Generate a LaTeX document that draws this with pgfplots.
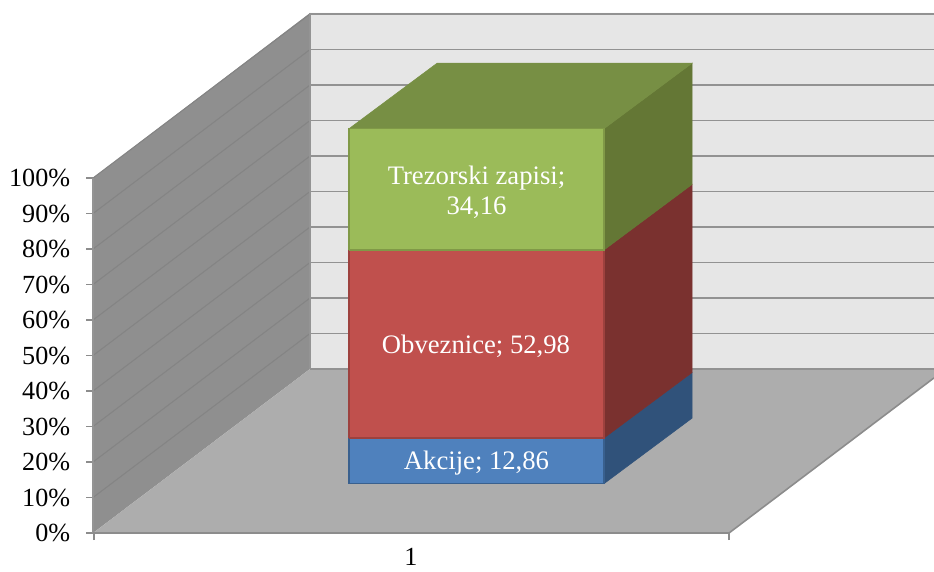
\documentclass[border=0pt]{standalone}
\usepackage{pgfplots}
\usepackage{fontspec}
\setmainfont{Liberation Serif}
\pgfplotsset{compat=1.18}
\definecolor{wallb}{HTML}{E6E6E6}
\definecolor{walls}{HTML}{8F8F8F}
\definecolor{flr}{HTML}{ADADAD}
\definecolor{gridb}{HTML}{929292}
\definecolor{grids}{HTML}{848484}
\definecolor{blueF}{HTML}{4F81BD}
\definecolor{blueS}{HTML}{30527A}
\definecolor{redF}{HTML}{C0504D}
\definecolor{redS}{HTML}{7A312F}
\definecolor{greenF}{HTML}{9BBB59}
\definecolor{greenS}{HTML}{647735}
\definecolor{greenT}{HTML}{778F44}
\begin{document}
\begin{tikzpicture}
\begin{axis}[
  at={(69.75pt,28.5pt)}, anchor=south west,
  scale only axis, width=630.75pt, height=390pt,
  xmin=93, xmax=934, ymin=0, ymax=146.5,
  clip=false,
  axis line style={draw=none},
  tick align=outside, xtick pos=bottom, ytick pos=left,
  major tick length=5.25pt,
  tick style={color=black!45, line width=1.2pt},
  ytick={0,10,...,100},
  yticklabel={\pgfmathprintnumber{\tick}\%},
  /pgf/number format/assume math mode=true,
  ticklabel style={font=\fontsize{19.6}{21}\selectfont, text=black},
  yticklabel style={xshift=-8.4pt},
  xtick={94,729}, xticklabels={,},
  extra x ticks={411}, extra x tick labels={1},
  extra x tick style={major tick length=0pt, xticklabel style={yshift=-11.2pt, inner sep=0pt}},
  unbounded coords=jump,
  every axis plot/.append style={mark=none, forget plot},
]
% walls and floor
\addplot[fill=wallb, draw=none] coordinates {(310,46.2)(934,46.2)(934,146.5)(310,146.5)(310,46.2)};
\addplot[fill=walls, draw=none] coordinates {(93,0)(310,46.2)(310,146.5)(93,100)(93,0)};
\addplot[fill=flr, draw=none] coordinates {(93,0)(729,0)(934,43.7)(934,46.2)(310,46.2)(93,0)};
% back gridlines
\addplot[gridb, line width=1.1pt] coordinates {
 (310,146.2)(934,146.2)(310,nan)
 (310,136.2)(934,136.2)(310,nan)
 (310,126.2)(934,126.2)(310,nan)
 (310,116.2)(934,116.2)(310,nan)
 (310,106.2)(934,106.2)(310,nan)
 (310,96.2)(934,96.2)(310,nan)
 (310,86.2)(934,86.2)(310,nan)
 (310,76.2)(934,76.2)(310,nan)
 (310,66.2)(934,66.2)(310,nan)
 (310,56.2)(934,56.2)(310,nan)
 (310,46.2)(934,46.2)};
% side-wall gridlines
\addplot[grids, line width=0.8pt] coordinates {
 (93,100)(310,146.2)(93,nan)
 (93,90)(310,136.2)(93,nan)
 (93,80)(310,126.2)(93,nan)
 (93,70)(310,116.2)(93,nan)
 (93,60)(310,106.2)(93,nan)
 (93,50)(310,96.2)(93,nan)
 (93,40)(310,86.2)(93,nan)
 (93,30)(310,76.2)(93,nan)
 (93,20)(310,66.2)(93,nan)
 (93,10)(310,56.2)(93,nan)};
% axis edges
\addplot[black!42, line width=1pt] coordinates {(310,46.2)(310,146.5)};
\addplot[black!42, line width=1.2pt] coordinates {(93,0)(93,100)};
\addplot[black!45, line width=1.2pt] coordinates {(93,0)(729,0)(934,43.7)};
% side faces
\addplot[fill=blueS, draw=blueS] coordinates {(604,13.9)(692,32.35)(692,45.2)(604,26.76)(604,13.9)};
\addplot[fill=redS, draw=redS] coordinates {(604,26.76)(692,45.2)(692,98.2)(604,79.74)(604,26.76)};
\addplot[fill=greenS, draw=greenS] coordinates {(604,79.74)(692,98.2)(692,132.35)(604,113.9)(604,79.74)};
% top face
\addplot[fill=greenT, draw=greenT] coordinates {(349,113.9)(604,113.9)(692,132.35)(437,132.35)(349,113.9)};
% front faces: 12,86 / 52,98 / 34,16
\addplot[fill=blueF, draw=blueS!70!blueF, line width=0.9pt] coordinates {(349,13.9)(604,13.9)(604,26.76)(349,26.76)(349,13.9)};
\addplot[fill=redF, draw=redS!50!redF, line width=0.9pt] coordinates {(349,26.76)(604,26.76)(604,79.74)(349,79.74)(349,26.76)};
\addplot[fill=greenF, draw=greenS!50!greenF, line width=0.9pt] coordinates {(349,79.74)(604,79.74)(604,113.9)(349,113.9)(349,79.74)};
% labels
\node[text=white, align=center, font=\fontsize{20}{22.5}\selectfont] at (axis cs:476.5,96.1) {Trezorski zapisi;\\34,16};
\node[text=white, font=\fontsize{20}{22}\selectfont] at (axis cs:476,52.7) {Obveznice; 52,98};
\node[text=white, font=\fontsize{20}{22}\selectfont] at (axis cs:476.5,19.6) {Akcije; 12,86};
\end{axis}
\pgfresetboundingbox
\path[use as bounding box] (0,0) rectangle (700.5pt,428.25pt);
\end{tikzpicture}
\end{document}
